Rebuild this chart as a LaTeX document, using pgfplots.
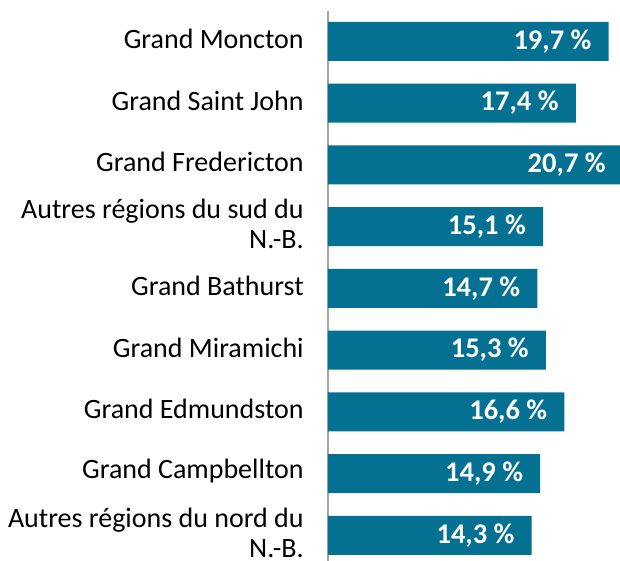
\documentclass[border=0pt]{standalone}
\usepackage{fontspec}
\setmainfont{Carlito}
\usepackage{pgfplots}
\pgfplotsset{compat=1.18}
\definecolor{barblue}{RGB}{4,113,147}
\definecolor{axisgray}{RGB}{166,166,166}
\begin{document}
\begin{tikzpicture}
\begin{axis}[
  at={(0,0)}, anchor=south west,
  xbar, bar width=39pt,
  scale only axis, width=292pt, height=550pt,
  xmin=0, xmax=20.5, ymin=-0.49, ymax=8.416, y dir=reverse,
  clip=false,
  axis x line=none, axis y line=left,
  y axis line style={-, draw=axisgray, line width=2pt},
  xtick=\empty, ytick={0,...,8}, ytick style={draw=none},
  yticklabels={Grand Moncton, Grand Saint John, Grand Fredericton,
    {Autres régions du sud du\\N.-B.}, Grand Bathurst, Grand Miramichi,
    Grand Edmundston, Grand Campbellton, {Autres régions du nord du\\N.-B.}},
  yticklabel style={align=right, font=\fontsize{28}{30}\selectfont,
    inner sep=0pt, xshift=-22pt, yshift=2.5pt},
  point meta=x,
  /pgf/number format/assume math mode=true,
  nodes near coords={\pgfmathprintnumber[use comma,fixed,fixed zerofill,precision=1,assume math mode=true]{\pgfplotspointmeta}~\%},
  nodes near coords style={anchor=east, text=white, inner sep=0pt, xshift=-17pt,
    font=\fontsize{28.5}{30}\selectfont\bfseries},
]
\addplot[fill=barblue, draw=none] coordinates {
  (19.7,0) (17.4,1) (20.7,2) (15.1,3) (14.7,4)
  (15.3,5) (16.6,6) (14.9,7) (14.3,8)};
\end{axis}
\pgfresetboundingbox
\useasboundingbox (-328pt,0pt) rectangle (292pt,561pt);
\end{tikzpicture}
\end{document}
